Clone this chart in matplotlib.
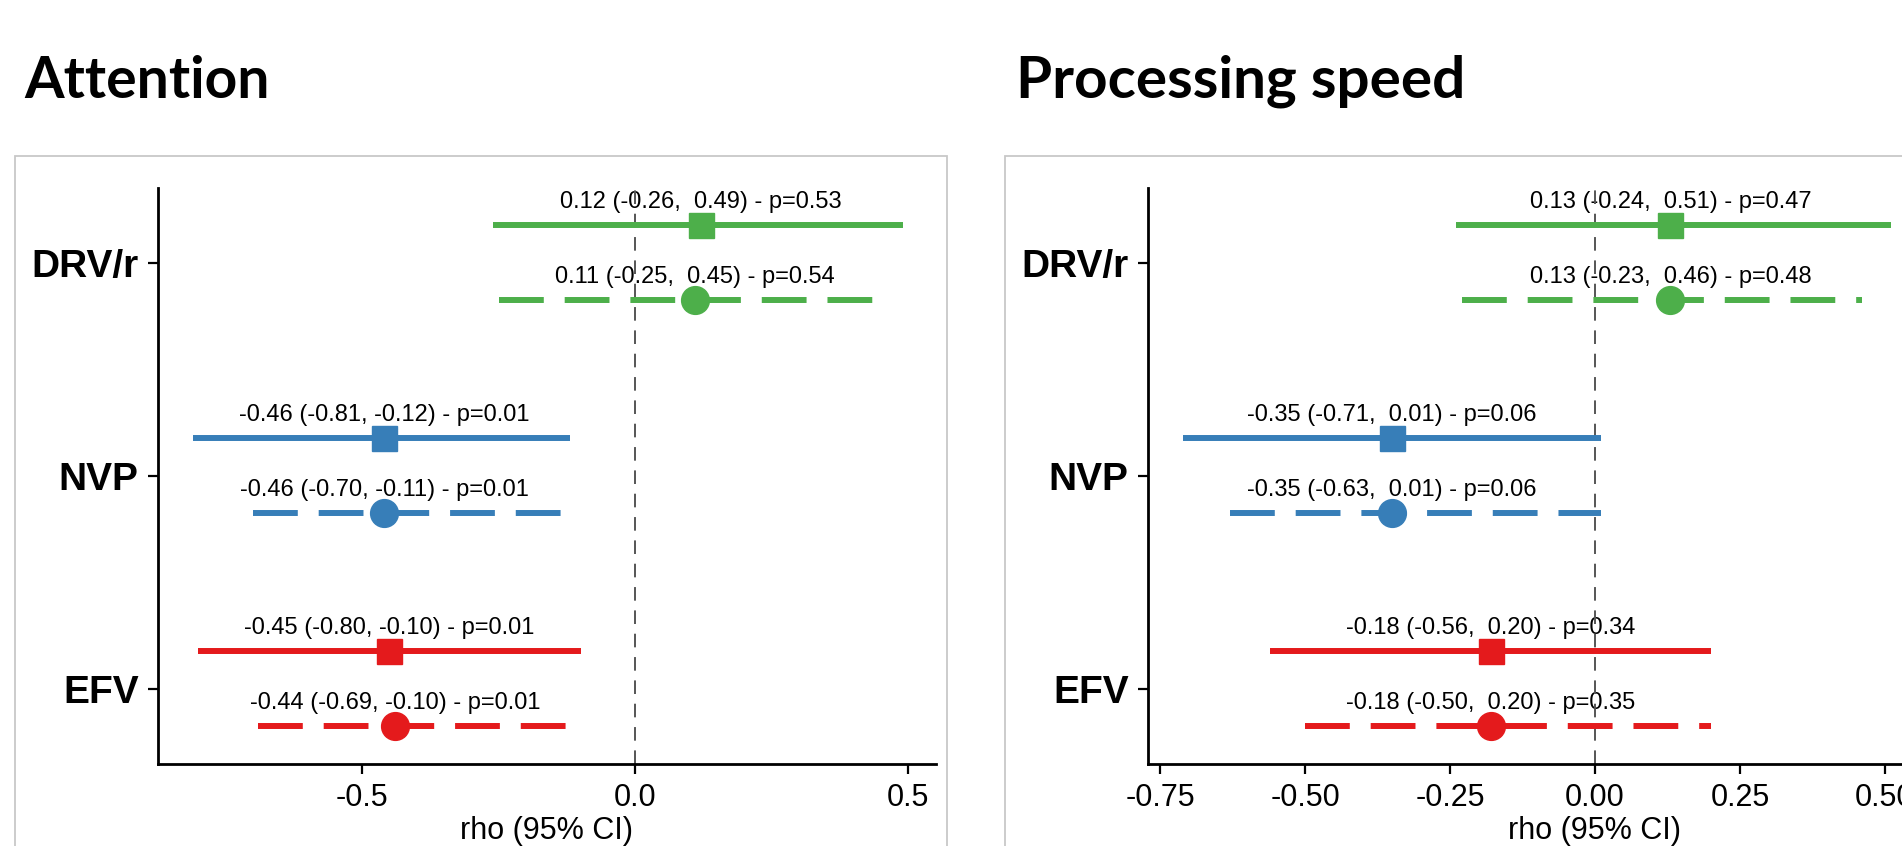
import numpy as np
import matplotlib.pyplot as plt
from matplotlib.patches import Rectangle

plt.rcParams['font.family'] = ['Liberation Sans', 'DejaVu Sans']

drugs = ['EFV', 'NVP', 'DRV/r']
colors = ['#E41A1C', '#377EB8', '#4DAF4A']

# Attention: solid (square) and dashed (circle) series
att_est_a = [-0.45, -0.46, 0.12]
att_lo_a = [-0.80, -0.81, -0.26]
att_hi_a = [-0.10, -0.12, 0.49]
att_p_a = [0.01, 0.01, 0.53]
att_est_b = [-0.44, -0.46, 0.11]
att_lo_b = [-0.69, -0.70, -0.25]
att_hi_b = [-0.10, -0.11, 0.45]
att_p_b = [0.01, 0.01, 0.54]

# Processing speed
ps_est_a = [-0.18, -0.35, 0.13]
ps_lo_a = [-0.56, -0.71, -0.24]
ps_hi_a = [0.20, 0.01, 0.51]
ps_p_a = [0.34, 0.06, 0.47]
ps_est_b = [-0.18, -0.35, 0.13]
ps_lo_b = [-0.50, -0.63, -0.23]
ps_hi_b = [0.20, 0.01, 0.46]
ps_p_b = [0.35, 0.06, 0.48]

W, H = 1902, 846
fig = plt.figure(figsize=(W / 100, H / 100), dpi=100)


def label(est, lo, hi, p):
    return f"{est:.2f} ({lo:5.2f}, {hi:5.2f}) - p={p:.2f}"


def panel(ax, sa, sb, xlim, xticks, xticklabels):
    est_a, lo_a, hi_a, p_a = sa
    est_b, lo_b, hi_b, p_b = sb
    ax.axvline(0, color='#555555', lw=1.4, ls=(0, (7, 5)), zorder=2)
    for i, d in enumerate(drugs):
        y = i + 1
        c = colors[i]
        ya = y + 0.178
        yb = y - 0.174
        ax.plot([lo_a[i], hi_a[i]], [ya, ya], color=c, lw=4.3,
                solid_capstyle='butt', zorder=3)
        ax.plot(est_a[i], ya, marker='s', ms=18, color=c, zorder=4)
        ax.plot([lo_b[i], hi_b[i]], [yb, yb], color=c, lw=4.3,
                ls=(0, (7.5, 3.5)), dash_capstyle='butt', zorder=3)
        ax.plot(est_b[i], yb, marker='o', ms=20, color=c, zorder=4)
        ax.text(est_a[i], ya + 0.11, label(est_a[i], lo_a[i], hi_a[i], p_a[i]),
                ha='center', va='center', fontsize=17, zorder=1)
        ax.text(est_b[i], yb + 0.11, label(est_b[i], lo_b[i], hi_b[i], p_b[i]),
                ha='center', va='center', fontsize=17, zorder=1)
    ax.set_xlim(*xlim)
    ax.set_ylim(0.648, 3.352)
    ax.set_yticks([1, 2, 3])
    ax.set_yticklabels(drugs, fontsize=28, fontweight='bold')
    ax.set_xticks(xticks)
    ax.set_xticklabels(xticklabels, fontsize=22)
    for s in ['top', 'right']:
        ax.spines[s].set_visible(False)
    for s in ['left', 'bottom']:
        ax.spines[s].set_linewidth(2)
    ax.tick_params(length=7, width=1.6, pad=7)
    ax.set_facecolor('none')


ax_h = (764 - 188) / H
ax_b = (H - 764) / H

# panel boxes
for bx in [15, 1005]:
    fig.patches.append(Rectangle((bx / W, -0.2), 932 / W, 0.2 + (H - 156) / H,
                                 transform=fig.transFigure, fill=False,
                                 edgecolor='#c8c8c8', lw=1.3))

ax1 = fig.add_axes([158 / W, ax_b, 778 / W, ax_h])
panel(ax1, (att_est_a, att_lo_a, att_hi_a, att_p_a),
      (att_est_b, att_lo_b, att_hi_b, att_p_b),
      (-0.874, 0.551), [-0.5, 0.0, 0.5], ['-0.5', '0.0', '0.5'])

ax2 = fig.add_axes([1148 / W, ax_b, 778 / W, ax_h])
panel(ax2, (ps_est_a, ps_lo_a, ps_hi_a, ps_p_a),
      (ps_est_b, ps_lo_b, ps_hi_b, ps_p_b),
      (-0.771, 0.571), [-0.75, -0.5, -0.25, 0.0, 0.25, 0.5],
      ['-0.75', '-0.50', '-0.25', '0.00', '0.25', '0.50'])

fig.text(547 / W, (H - 831) / H, 'rho (95% CI)', ha='center', va='center',
         fontsize=22)
fig.text(1595 / W, (H - 831) / H, 'rho (95% CI)', ha='center', va='center',
         fontsize=22)

fig.text(24 / W, (H - 98) / H, 'Attention', family='Lato', fontweight='bold',
         fontsize=41, va='baseline', ha='left')
fig.text(1016 / W, (H - 98) / H, 'Processing speed', family='Lato',
         fontweight='bold', fontsize=42, va='baseline', ha='left')

fig.savefig('out.png', dpi=100)
